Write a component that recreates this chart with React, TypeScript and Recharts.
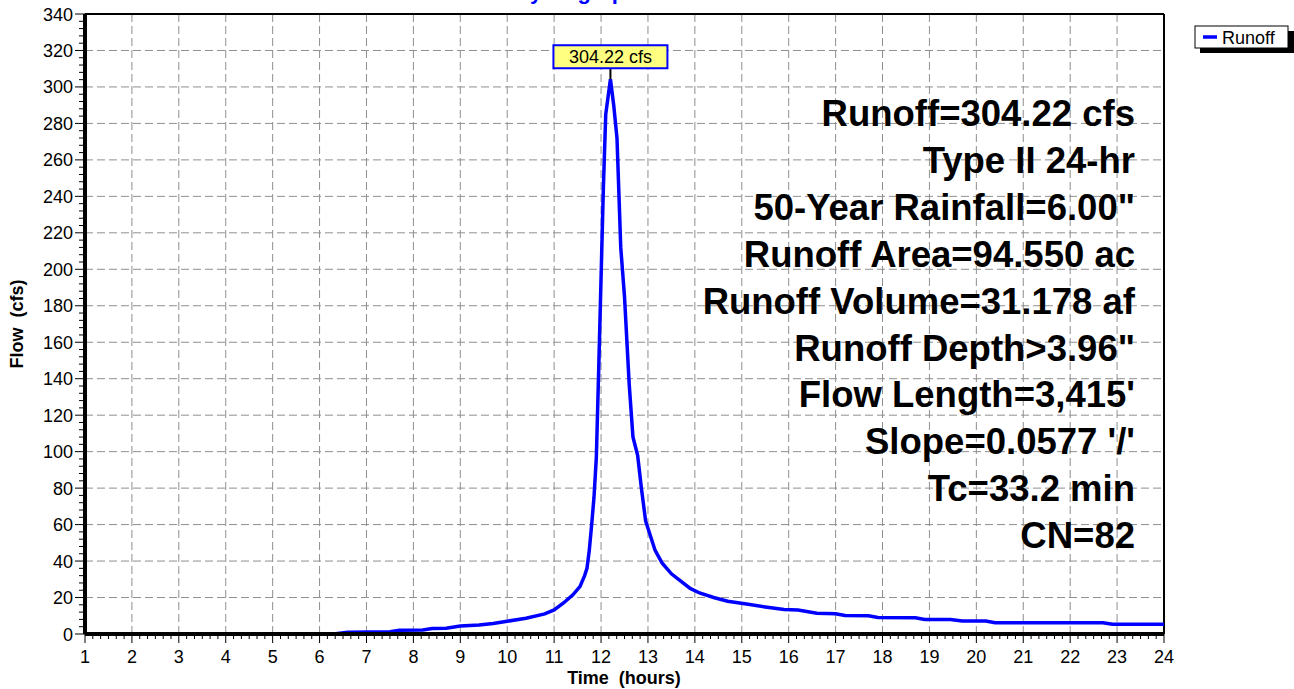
import React from 'react';
import { LineChart, Line, XAxis, YAxis, ReferenceLine, ReferenceDot } from 'recharts';

// ---- data ----
const hours = [
  1.0, 6.3, 6.6, 7.5, 7.7, 8.2, 8.4, 8.7, 9.0, 9.4, 9.7, 10.0, 10.4, 10.8, 11.0, 11.2, 11.4,
  11.55, 11.65, 11.7, 11.75, 11.8, 11.85, 11.9, 11.95, 12.0, 12.05, 12.1, 12.2, 12.27, 12.34,
  12.42, 12.5, 12.6, 12.68, 12.78, 12.86, 12.95, 13.05, 13.15, 13.3, 13.5, 13.7, 13.9, 14.1,
  14.4, 14.7, 15.1, 15.5, 15.9, 16.2, 16.6, 17.0, 17.2, 17.7, 17.9, 18.7, 18.9, 19.45, 19.7,
  20.2, 20.4, 22.7, 22.9, 24.0,
];
const flows = [
  0, 0, 1.0, 1.3, 2.0, 2.2, 3.0, 3.2, 4.4, 5.0, 5.8, 7.0, 8.6, 11.0, 13.2, 17.0, 21.5,
  26, 32, 36, 46, 60, 75, 97, 145, 195, 245, 285, 304.22, 290, 272,
  212, 185, 137, 108, 98, 80, 62, 54, 46, 39, 33, 29, 25, 22.5,
  20, 18, 16.4, 14.8, 13.4, 13.2, 11.4, 11.1, 10.1, 10.0, 9.0, 8.9, 8.0, 8.0, 7.1,
  7.1, 6.2, 6.2, 5.3, 5.3,
];
const seriesName = 'Runoff';
const peakLabel = '304.22 cfs';
const titleText = 'Hydrograph';
const xAxisTitle = 'Time  (hours)';
const yAxisTitle = 'Flow  (cfs)';
const annotations = [
  'Runoff=304.22 cfs',
  'Type II 24-hr',
  '50-Year Rainfall=6.00"',
  'Runoff Area=94.550 ac',
  'Runoff Volume=31.178 af',
  'Runoff Depth>3.96"',
  "Flow Length=3,415'",
  "Slope=0.0577 '/'",
  'Tc=33.2 min',
  'CN=82',
];
const xMajorTicks = [1, 2, 3, 4, 5, 6, 7, 8, 9, 10, 11, 12, 13, 14, 15, 16, 17, 18, 19, 20, 21, 22, 23, 24];
const yMajorTicks = [0, 20, 40, 60, 80, 100, 120, 140, 160, 180, 200, 220, 240, 260, 280, 300, 320, 340];
const xMinorPerMajor = 6;
const yMinorPerMajor = 5;

const data = hours.map((h, i) => ({ time: h, flow: flows[i] }));
const peakIndex = flows.indexOf(Math.max(...flows));

const xTicks: number[] = [];
for (let i = 0; i < xMajorTicks.length - 1; i++) {
  for (let k = 0; k < xMinorPerMajor; k++) {
    xTicks.push(xMajorTicks[i] + ((xMajorTicks[i + 1] - xMajorTicks[i]) * k) / xMinorPerMajor);
  }
}
xTicks.push(xMajorTicks[xMajorTicks.length - 1]);
const yTicks: number[] = [];
for (let i = 0; i < yMajorTicks.length - 1; i++) {
  for (let k = 0; k < yMinorPerMajor; k++) {
    yTicks.push(yMajorTicks[i] + ((yMajorTicks[i + 1] - yMajorTicks[i]) * k) / yMinorPerMajor);
  }
}
yTicks.push(yMajorTicks[yMajorTicks.length - 1]);

const FONT = '"Liberation Sans", Arial, Helvetica, sans-serif';
const W = 1294;
const H = 689;

const isMajor = (v: number, majors: number[]) => majors.some((m) => Math.abs(m - v) < 1e-6);

const YTick = (props: any) => {
  const { x, y, payload } = props;
  const v = payload.value;
  const major = isMajor(v, yMajorTicks);
  return (
    <g>
      <line x1={x - (major ? 10 : 6)} x2={x} y1={y} y2={y} stroke="#000" strokeWidth={1} />
      {major && (
        <text x={x - 12} y={y} dy={6.5} textAnchor="end" fontSize={18} fill="#000" fontFamily={FONT}>
          {Math.round(v)}
        </text>
      )}
    </g>
  );
};

const XTick = (props: any) => {
  const { x, y, payload } = props;
  const v = payload.value;
  const major = isMajor(v, xMajorTicks);
  return (
    <g>
      <line x1={x} x2={x} y1={y} y2={y + (major ? 9 : 5)} stroke="#000" strokeWidth={1} />
      {major && (
        <text x={x} y={y + 29} textAnchor="middle" fontSize={18} fill="#000" fontFamily={FONT}>
          {Math.round(v)}
        </text>
      )}
    </g>
  );
};

const PeakShape = (props: any) => {
  const { cx, cy } = props;
  if (cx == null || cy == null) return null;
  const w = 114;
  const h = 23;
  const top = cy - 11 - h;
  return (
    <g>
      <line x1={cx} x2={cx} y1={top + h} y2={cy} stroke="#000" strokeWidth={2} />
      <rect x={cx - w / 2} y={top} width={w} height={h} fill="#ffff80" stroke="#0000ff" strokeWidth={2} />
      <text x={cx} y={top + h / 2 + 6.5} textAnchor="middle" fontSize={18} fill="#000" fontFamily={FONT}>
        {peakLabel}
      </text>
    </g>
  );
};

export default function App() {
  const annRight = 1135;
  const annTop = 126;
  const annStep = 46.9;
  return (
    <div style={{ position: 'absolute', left: 0, top: 0, width: W, height: H, fontFamily: FONT, background: '#fff' }}>
      <LineChart
        width={W}
        height={H}
        data={data}
        margin={{ top: 14, right: 130, bottom: 25, left: 25 }}
        style={{ fontFamily: FONT }}
      >
        <XAxis
          dataKey="time"
          type="number"
          domain={[1, 24]}
          allowDataOverflow
          ticks={xTicks}
          interval={0}
          tickSize={0}
          tickMargin={0}
          tick={<XTick />}
          tickLine={false}
          axisLine={{ stroke: '#000', strokeWidth: 4 }}
          height={30}
        />
        <YAxis
          type="number"
          domain={[0, 340]}
          allowDataOverflow
          ticks={yTicks}
          interval={0}
          tickSize={0}
          tickMargin={0}
          tick={<YTick />}
          tickLine={false}
          axisLine={{ stroke: '#000', strokeWidth: 4 }}
          width={60}
        />
        {yMajorTicks.slice(1, -1).map((v) => (
          <ReferenceLine key={'gy' + v} y={v} stroke="#8f8f8f" strokeWidth={1} strokeDasharray="8 4" />
        ))}
        {xMajorTicks.slice(1, -1).map((v) => (
          <ReferenceLine key={'gx' + v} x={v} stroke="#8f8f8f" strokeWidth={1} strokeDasharray="8 4" />
        ))}
        <ReferenceLine y={yMajorTicks[yMajorTicks.length - 1]} stroke="#000" strokeWidth={2} />
        <ReferenceLine x={xMajorTicks[xMajorTicks.length - 1]} stroke="#000" strokeWidth={2} />
        <Line
          type="linear"
          dataKey="flow"
          name={seriesName}
          stroke="#0000ff"
          strokeWidth={3.5}
          dot={false}
          activeDot={false}
          isAnimationActive={false}
        />
        <ReferenceDot
          x={hours[peakIndex]}
          y={flows[peakIndex]}
          r={0}
          ifOverflow="visible"
          shape={(p: any) => <PeakShape {...p} />}
        />
      </LineChart>
      <svg
        width={W}
        height={H}
        style={{ position: 'absolute', left: 0, top: 0, pointerEvents: 'none' }}
        fontFamily={FONT}
      >
        <text x={514} y={-1.5} fontSize={22} fontWeight="bold" fill="#0000ff">
          {titleText}
        </text>
        {annotations.map((t, i) => (
          <text
            key={t}
            x={annRight}
            y={annTop + i * annStep}
            textAnchor="end"
            fontSize={36.5}
            fontWeight="bold"
            fill="#000"
          >
            {t}
          </text>
        ))}
        <text
          x={624}
          y={684}
          textAnchor="middle"
          fontSize={18}
          fontWeight="bold"
          fill="#000"
          style={{ whiteSpace: 'pre' }}
        >
          {xAxisTitle}
        </text>
        <text
          transform="translate(23,324) rotate(-90)"
          x={0}
          y={0}
          textAnchor="middle"
          fontSize={18}
          fontWeight="bold"
          fill="#000"
          style={{ whiteSpace: 'pre' }}
        >
          {yAxisTitle}
        </text>
        {/* legend */}
        <rect x={1200} y={31} width={94} height={22} fill="#000" />
        <rect x={1195} y={26} width={93} height={22} fill="#fff" stroke="#000" strokeWidth={1} />
        <line x1={1203} x2={1217} y1={37} y2={37} stroke="#0000ff" strokeWidth={3.5} />
        <text x={1222} y={43.5} fontSize={18} fill="#000">
          {seriesName}
        </text>
      </svg>
    </div>
  );
}
